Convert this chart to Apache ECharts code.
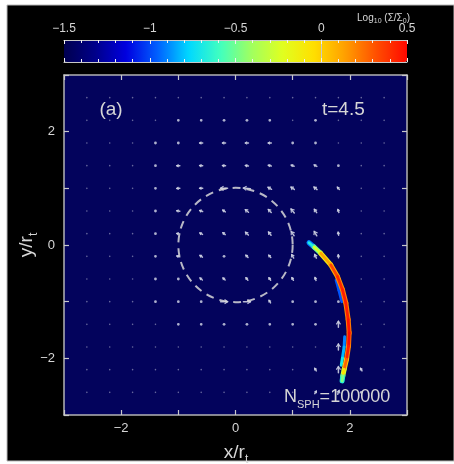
<!DOCTYPE html>
<html><head><meta charset="utf-8">
<script src="https://cdn.jsdelivr.net/npm/echarts@6/dist/echarts.min.js"></script>
<style>html,body{margin:0;padding:0;background:#fff}#c{width:454px;height:464px}</style>
</head><body><div id="c"></div>
<script>
// ---------------- data ----------------
const gridX = [-2.6,-2.2,-1.8,-1.4,-1.0,-0.6,-0.2,0.2,0.6,1.0,1.4,1.8,2.2,2.6];
const gridY = [2.6,2.2,1.8,1.4,1.0,0.6,0.2,-0.2,-0.6,-1.0,-1.4,-1.8,-2.2,-2.6];
// velocity arrow magnitude (rows = gridY, cols = gridX)
const arrowLen = [
  [1,1,1,1,1,1,1,1,1,1,1,1,1,1],
  [1,1,1,1,2,2,2,2,2,1,2,1,1,1],
  [1,1,1,2,2,3,3,3,3,2,2,1,1,1],
  [1,1,1,2,3,3,3,3,3,3,3,2,1,1],
  [1,1,1,2,3,3,7,7,4,4,4,3,1,1],
  [1,1,1,2,3,3,3,4,4,5,4,3,1,1],
  [1,1,1,2,3,3,3,4,4,5,5,3,1,1],
  [1,1,1,2,3,3,2,3,3,4,4,3,1,1],
  [1,1,1,2,2,3,3,3,3,3,3,6,1,1],
  [1,1,1,2,2,2,7,7,3,2,2,2,1,1],
  [1,1,1,1,2,2,2,2,2,2,2,6,1,1],
  [1,1,1,1,1,1,1,1,1,1,1,6,1,1],
  [1,1,1,1,1,1,1,1,1,1,3,6,3,1],
  [1,1,1,1,1,1,1,1,1,1,3,4,2,1]
];
// velocity arrow direction, degrees (180 = toward -x, 90 = toward +y)
const arrowDir = [
  [180,180,180,180,180,180,180,180,180,180,180,180,180,180],
  [180,180,180,180,180,180,180,180,180,180,180,180,180,180],
  [180,180,180,180,180,180,180,180,180,180,180,180,180,180],
  [180,180,180,180,180,175,175,170,165,160,150,140,180,180],
  [180,180,180,185,185,180,180,175,150,145,140,130,180,180],
  [180,180,180,180,175,160,145,140,135,130,125,110,180,180],
  [180,180,180,180,170,150,140,135,130,125,120,100,180,180],
  [180,180,180,180,165,145,140,135,130,120,115,95,180,180],
  [180,180,180,180,160,140,135,130,125,120,110,90,180,180],
  [180,180,180,180,150,130,0,0,120,115,100,90,180,180],
  [180,180,180,180,180,160,150,140,130,120,100,90,180,180],
  [180,180,180,180,180,180,180,180,180,180,180,90,180,180],
  [180,180,180,180,180,180,180,180,180,180,120,90,120,180],
  [180,180,180,180,180,180,180,180,180,180,60,70,180,180]
];
// tidal stream (centre line) and log10 surface density
const streamX    = [1.286, 1.374, 1.491, 1.667, 1.784, 1.871, 1.930, 1.971, 1.988, 1.977, 1.942, 1.901, 1.877, 1.865];
const streamY    = [0.040, -0.035, -0.146, -0.351, -0.556, -0.789, -1.023, -1.316, -1.550, -1.784, -2.018, -2.193, -2.310, -2.398];
const streamCore = [-0.9, -0.45, -0.05, 0.3, 0.4, 0.45, 0.45, 0.45, 0.5, 0.5, 0.4, 0.15, -0.25, -0.7];
const streamEdge = [-1.1, -0.7, -0.3, 0.05, 0.15, 0.2, 0.2, 0.2, 0.25, 0.25, 0.15, -0.1, -0.45, -0.9];
// low-density fringes along the stream
const fringeX      = [1.76, 1.81, 1.86, 1.91, 1.90, 1.87, 1.85];
const fringeY      = [-0.62, -0.80, -1.00, -1.62, -1.80, -2.00, -2.12];
const fringeVal    = [-1.0, -0.95, -1.0, -0.95, -0.85, -0.8, -0.6];
const fringeStrand = [0, 0, 0, 1, 1, 1, 1];
const tidalRadius = [1];
const axisRange = [-3, 3];
const cbarRange = [-1.5, 0.5];
const cbarColors = ['#00004f','#00008a','#0000e0','#0060ff','#00d8ff','#40ffc0','#a0ff60','#e0ff20','#ffe000','#ffa000','#ff5000','#ff0800'];

// ---------------- chart ----------------
const FONT = '"Liberation Sans", Helvetica, Arial, sans-serif';
const TXT = '#d6d6d6';
const fmt = v => (v < 0 ? '\u2212' + Math.abs(v) : String(v));

const arrowData = [];
gridY.forEach((gy, r) => gridX.forEach((gx, c) => arrowData.push([gx, gy, arrowLen[r][c], arrowDir[r][c]])));

function segments(xs, ys, vs, strand) {
  const out = [];
  for (let i = 0; i < xs.length - 1; i++) {
    if (strand && strand[i] !== strand[i + 1]) continue;
    out.push([xs[i], ys[i], (vs[i] + vs[i + 1]) / 2, xs[i + 1], ys[i + 1]]);
  }
  return out;
}

function renderArrow(params, api) {
  const p = api.coord([api.value(0), api.value(1)]);
  const len = api.value(2), ang = api.value(3) * Math.PI / 180;
  const col = '#cdd0e2';
  if (len <= 2) {
    return {type: 'circle', shape: {cx: p[0], cy: p[1], r: len <= 1 ? 0.8 : 1.4},
            style: {fill: col, opacity: len <= 1 ? 0.5 : 0.85}};
  }
  const ux = Math.cos(ang), uy = -Math.sin(ang);
  const x0 = p[0] - ux * len / 2, y0 = p[1] - uy * len / 2;
  const x1 = p[0] + ux * len / 2, y1 = p[1] + uy * len / 2;
  const h = Math.min(3, len * 0.6), w = h * 0.7;
  const a1 = [x1 - ux * h - uy * w, y1 - uy * h + ux * w];
  const a2 = [x1 - ux * h + uy * w, y1 - uy * h - ux * w];
  return {type: 'group', children: [
    {type: 'line', shape: {x1: x0, y1: y0, x2: x1, y2: y1}, style: {stroke: col, lineWidth: 1.5, lineCap: 'round', opacity: 0.9}},
    {type: 'polyline', shape: {points: [a1, [x1, y1], a2]}, style: {stroke: col, lineWidth: 1.2, fill: null, opacity: 0.9}}
  ]};
}
function segRenderer(width) {
  return function (params, api) {
    const a = api.coord([api.value(0), api.value(1)]);
    const b = api.coord([api.value(3), api.value(4)]);
    return {type: 'line', shape: {x1: a[0], y1: a[1], x2: b[0], y2: b[1]},
            style: {stroke: api.visual('color'), lineWidth: width, lineCap: 'round'}};
  };
}
function renderCircle(params, api) {
  const c = api.coord([0, 0]);
  const r = api.size([api.value(0), api.value(0)])[0];
  return {type: 'circle', shape: {cx: c[0], cy: c[1], r: r},
          style: {fill: null, stroke: '#d8d8d8', lineWidth: 2, lineDash: [8, 6], opacity: 0.85}};
}

function mainAxis(pos, labels, isX) {
  return {
    type: 'value', gridIndex: 0, position: pos, min: axisRange[0], max: axisRange[1], interval: 1, z: 10,
    axisLine: {show: true, onZero: false, lineStyle: {color: '#b4b4b4', width: 1.5}},
    axisTick: {show: true, inside: true, length: 5, lineStyle: {color: '#c8c8c8', width: 1.2}},
    splitLine: {show: false},
    axisLabel: {show: labels, color: TXT, fontSize: 13, fontFamily: FONT, margin: isX ? 7 : 9,
                formatter: v => (Math.abs(v) % 2 === 0 && Math.abs(v) < 3 ? fmt(v) : '')}
  };
}
function cbarXAxis(pos, labels) {
  return {
    type: 'value', gridIndex: 1, position: pos, min: cbarRange[0], max: cbarRange[1], interval: 0.5, z: 10,
    axisLine: {show: true, onZero: false, lineStyle: {color: '#c8c8c8', width: 1}},
    axisTick: {show: true, inside: true, length: 4, lineStyle: {color: '#f0f0f0', width: 1}},
    minorTick: {show: true, splitNumber: 5, length: 3, lineStyle: {color: '#f0f0f0', width: 1}},
    splitLine: {show: false},
    axisLabel: {show: labels, color: TXT, fontSize: 12, fontFamily: FONT, margin: 5, formatter: v => fmt(v)}
  };
}
function cbarYAxis(pos) {
  return {type: 'value', gridIndex: 1, position: pos, min: 0, max: 1, z: 10,
          axisLine: {show: true, lineStyle: {color: '#c8c8c8', width: 1}},
          axisTick: {show: false}, axisLabel: {show: false}, splitLine: {show: false}};
}

const option = {
  backgroundColor: '#ffffff',
  animation: false,
  grid: [
    {left: 64, top: 75, width: 343, height: 340, show: true, backgroundColor: '#03035c', borderWidth: 0},
    {left: 64, top: 40, width: 343, height: 22, show: false}
  ],
  xAxis: [mainAxis('bottom', true, true), mainAxis('top', false, true), cbarXAxis('top', true), cbarXAxis('bottom', false)],
  yAxis: [mainAxis('left', true, false), mainAxis('right', false, false), cbarYAxis('left'), cbarYAxis('right')],
  visualMap: {
    type: 'continuous', min: cbarRange[0], max: cbarRange[1], orient: 'horizontal',
    left: 64, top: 40, itemWidth: 22, itemHeight: 343, padding: 0, calculable: false,
    dimension: 2, seriesIndex: [2, 3, 4], z: 1, hoverLink: false,
    inRange: {color: cbarColors}
  },
  graphic: [
    {type: 'rect', z: -10, silent: true, shape: {x: 7, y: 5, width: 447, height: 456},
     style: {fill: '#000', stroke: '#b8b8b8', lineWidth: 1}},
    {type: 'text', z: 20, x: 410, y: 18, style: {
      text: '{a|Log}{s|10}{a| (\u03A3/\u03A3}{s|0}{a|)}', align: 'right', verticalAlign: 'middle', fill: TXT,
      rich: {a: {fontSize: 10, lineHeight: 14, fontFamily: FONT, fill: TXT},
             s: {fontSize: 7, lineHeight: 7, verticalAlign: 'bottom', fontFamily: FONT, fill: TXT}}}},
    {type: 'text', z: 20, x: 111, y: 110, style: {text: '(a)', align: 'center', verticalAlign: 'middle',
      fill: TXT, fontSize: 19, fontFamily: FONT}},
    {type: 'text', z: 20, x: 322, y: 110, style: {text: 't=4.5', align: 'left', verticalAlign: 'middle',
      fill: TXT, fontSize: 19, fontFamily: FONT}},
    {type: 'text', z: 20, x: 284, y: 397, style: {
      text: '{a|N}{s|SPH}{a|=100000}', align: 'left', verticalAlign: 'middle', fill: TXT,
      rich: {a: {fontSize: 18, lineHeight: 26, fontFamily: FONT, fill: TXT},
             s: {fontSize: 11, lineHeight: 11, verticalAlign: 'bottom', fontFamily: FONT, fill: TXT}}}},
    {type: 'text', z: 20, x: 236, y: 453, style: {
      text: '{a|x/r}{s|t}', align: 'center', verticalAlign: 'middle', fill: TXT,
      rich: {a: {fontSize: 19, lineHeight: 26, fontFamily: FONT, fill: TXT},
             s: {fontSize: 12, lineHeight: 12, verticalAlign: 'bottom', fontFamily: FONT, fill: TXT}}}},
    {type: 'text', z: 20, x: 27, y: 245, rotation: Math.PI / 2, style: {
      text: '{a|y/r}{s|t}', align: 'center', verticalAlign: 'middle', fill: TXT,
      rich: {a: {fontSize: 19, lineHeight: 26, fontFamily: FONT, fill: TXT},
             s: {fontSize: 12, lineHeight: 12, verticalAlign: 'bottom', fontFamily: FONT, fill: TXT}}}}
  ],
  series: [
    {type: 'custom', name: 'velocity', xAxisIndex: 0, yAxisIndex: 0, clip: true, z: 3,
     renderItem: renderArrow, data: arrowData, silent: true},
    {type: 'custom', name: 'tidal radius', xAxisIndex: 0, yAxisIndex: 0, clip: true, z: 4,
     renderItem: renderCircle, data: tidalRadius.map(r => [r]), silent: true},
    {type: 'custom', name: 'fringe', xAxisIndex: 0, yAxisIndex: 0, clip: true, z: 5,
     encode: {x: [0, 3], y: [1, 4]}, renderItem: segRenderer(3),
     data: segments(fringeX, fringeY, fringeVal, fringeStrand), silent: true},
    {type: 'custom', name: 'stream edge', xAxisIndex: 0, yAxisIndex: 0, clip: true, z: 6,
     encode: {x: [0, 3], y: [1, 4]}, renderItem: segRenderer(5),
     data: segments(streamX, streamY, streamEdge), silent: true},
    {type: 'custom', name: 'stream core', xAxisIndex: 0, yAxisIndex: 0, clip: true, z: 7,
     encode: {x: [0, 3], y: [1, 4]}, renderItem: segRenderer(2.8),
     data: segments(streamX, streamY, streamCore), silent: true}
  ]
};
const chart = echarts.init(document.getElementById('c'));
chart.setOption(option);
</script></body></html>
